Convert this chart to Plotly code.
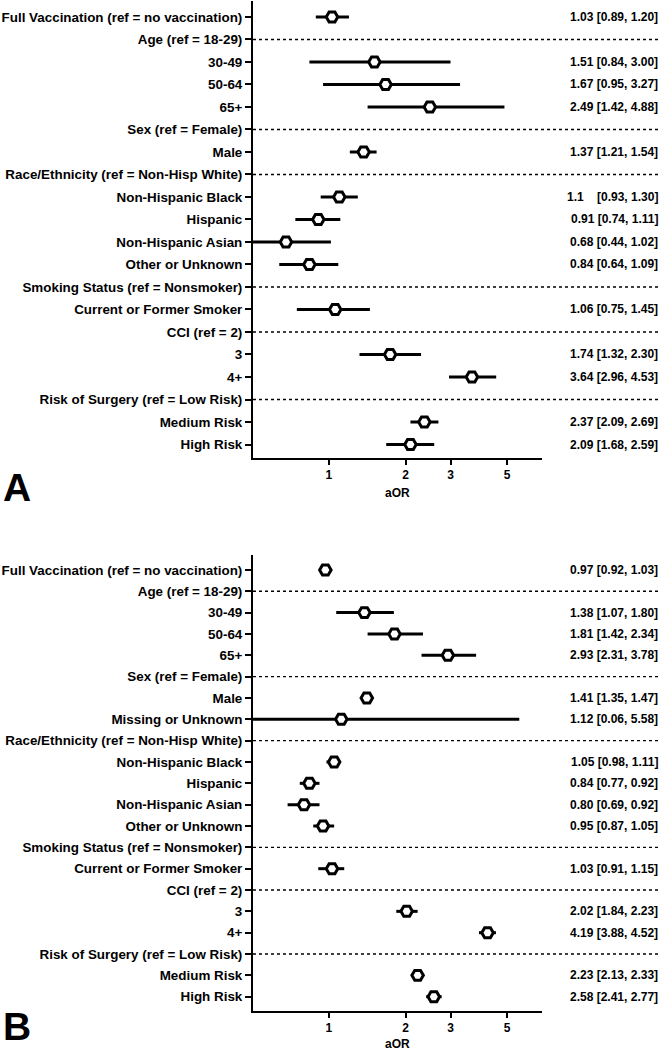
import math
import plotly.graph_objects as go

# ---------------- data ----------------
labels_a = ["Full Vaccination (ref = no vaccination)", "Age (ref = 18-29)", "30-49", "50-64", "65+",
            "Sex (ref = Female)", "Male", "Race/Ethnicity (ref = Non-Hisp White)", "Non-Hispanic Black",
            "Hispanic", "Non-Hispanic Asian", "Other or Unknown", "Smoking Status (ref = Nonsmoker)",
            "Current or Former Smoker", "CCI (ref = 2)", "3", "4+", "Risk of Surgery (ref = Low Risk)",
            "Medium Risk", "High Risk"]
est_a = [1.03, None, 1.51, 1.67, 2.49, None, 1.37, None, 1.10, 0.91, 0.68, 0.84, None, 1.06, None, 1.74, 3.64, None, 2.37, 2.09]
lo_a = [0.89, None, 0.84, 0.95, 1.42, None, 1.21, None, 0.93, 0.74, 0.44, 0.64, None, 0.75, None, 1.32, 2.96, None, 2.09, 1.68]
hi_a = [1.20, None, 3.00, 3.27, 4.88, None, 1.54, None, 1.30, 1.11, 1.02, 1.09, None, 1.45, None, 2.30, 4.53, None, 2.69, 2.59]
text_a = ["1.03 [0.89, 1.20]", "", "1.51 [0.84, 3.00]", "1.67 [0.95, 3.27]", "2.49 [1.42, 4.88]", "",
          "1.37 [1.21, 1.54]", "", "1.1\u00a0\u00a0\u00a0\u00a0[0.93, 1.30]", "0.91 [0.74, 1.11]",
          "0.68 [0.44, 1.02]", "0.84 [0.64, 1.09]", "", "1.06 [0.75, 1.45]", "", "1.74 [1.32, 2.30]",
          "3.64 [2.96, 4.53]", "", "2.37 [2.09, 2.69]", "2.09 [1.68, 2.59]"]

labels_b = ["Full Vaccination (ref = no vaccination)", "Age (ref = 18-29)", "30-49", "50-64", "65+",
            "Sex (ref = Female)", "Male", "Missing or Unknown", "Race/Ethnicity (ref = Non-Hisp White)",
            "Non-Hispanic Black", "Hispanic", "Non-Hispanic Asian", "Other or Unknown",
            "Smoking Status (ref = Nonsmoker)", "Current or Former Smoker", "CCI (ref = 2)", "3", "4+",
            "Risk of Surgery (ref = Low Risk)", "Medium Risk", "High Risk"]
est_b = [0.97, None, 1.38, 1.81, 2.93, None, 1.41, 1.12, None, 1.05, 0.84, 0.80, 0.95, None, 1.03, None, 2.02, 4.19, None, 2.23, 2.58]
lo_b = [0.92, None, 1.07, 1.42, 2.31, None, 1.35, 0.06, None, 0.98, 0.77, 0.69, 0.87, None, 0.91, None, 1.84, 3.88, None, 2.13, 2.41]
hi_b = [1.03, None, 1.80, 2.34, 3.78, None, 1.47, 5.58, None, 1.11, 0.92, 0.92, 1.05, None, 1.15, None, 2.23, 4.52, None, 2.33, 2.77]
text_b = ["0.97 [0.92, 1.03]", "", "1.38 [1.07, 1.80]", "1.81 [1.42, 2.34]", "2.93 [2.31, 3.78]", "",
          "1.41 [1.35, 1.47]", "1.12 [0.06, 5.58]", "", "1.05 [0.98, 1.11]", "0.84 [0.77, 0.92]",
          "0.80 [0.69, 0.92]", "0.95 [0.87, 1.05]", "", "1.03 [0.91, 1.15]", "", "2.02 [1.84, 2.23]",
          "4.19 [3.88, 4.52]", "", "2.23 [2.13, 2.33]", "2.58 [2.41, 2.77]"]

x_ticks = [1, 2, 3, 5]
x_title = "aOR"
panel_letters = ["A", "B"]

# ---------------- layout constants ----------------
W, H = 664, 1050
FONT = "Liberation Sans, Arial, sans-serif"
x_left, x_right, text_right = 253, 541.7, 659.5


def px(v):
    return v / W


def py(v):
    return 1 - v / H


fig = go.Figure()
annotations = []
shapes = []

panels = [
    dict(labels=labels_a, est=est_a, lo=lo_a, hi=hi_a, text=text_a, top=1, bottom=458,
         yrange=[19.6, -0.71], xa="x", ya="y", title_y=492.5, letter_bottom=511),
    dict(labels=labels_b, est=est_b, lo=lo_b, hi=hi_b, text=text_b, top=555, bottom=1011,
         yrange=[20.67, -0.70], xa="x2", ya="y2", title_y=1044, letter_bottom=1050),
]

for k, p in enumerate(panels):
    n = len(p["labels"])
    rows = list(range(n))
    # CI lines
    lx, ly = [], []
    for i in rows:
        if p["est"][i] is not None:
            lx += [p["lo"][i], p["hi"][i], None]
            ly += [i, i, None]
    fig.add_trace(go.Scatter(x=lx, y=ly, mode="lines", line=dict(color="black", width=3),
                             xaxis=p["xa"], yaxis=p["ya"], showlegend=False, hoverinfo="skip"))
    mx = [p["est"][i] for i in rows if p["est"][i] is not None]
    my = [i for i in rows if p["est"][i] is not None]
    fig.add_trace(go.Scatter(x=mx, y=my, mode="markers",
                             marker=dict(symbol="hexagon2", size=11.5, color="white",
                                         line=dict(color="black", width=3)),
                             xaxis=p["xa"], yaxis=p["ya"], showlegend=False))
    # header dotted lines
    for i in rows:
        if p["est"][i] is None:
            shapes.append(dict(type="line", xref="paper", yref=p["ya"], x0=px(x_left), x1=px(text_right),
                               y0=i, y1=i, line=dict(color="black", width=1.4, dash="dot"), layer="below"))
        elif p["text"][i]:
            annotations.append(dict(xref="paper", yref=p["ya"], x=px(text_right), y=i, xanchor="right",
                                    yanchor="middle", showarrow=False, text=p["text"][i],
                                    font=dict(family=FONT, size=12, color="black", weight="bold")))
    # vertical reference line at aOR = 1
    shapes.append(dict(type="line", xref=p["xa"], yref=p["ya"] + " domain", x0=math.log10(1), x1=math.log10(1),
                       y0=0, y1=1, line=dict(color="black", width=1, dash="dot"), layer="below"))
    # axis title and panel letter
    annotations.append(dict(xref="paper", yref="paper", x=px((x_left + x_right) / 2), y=py(p["title_y"]),
                            xanchor="center", yanchor="middle", showarrow=False, text=x_title,
                            font=dict(family=FONT, size=12, color="black", weight="bold")))
    annotations.append(dict(xref="paper", yref="paper", x=px(1), y=py(p["letter_bottom"]),
                            xanchor="left", yanchor="bottom", showarrow=False, text=panel_letters[k],
                            font=dict(family=FONT, size=39, color="black", weight="bold")))

    xkey = "xaxis" if p["xa"] == "x" else "xaxis2"
    ykey = "yaxis" if p["ya"] == "y" else "yaxis2"
    fig.update_layout(**{
        xkey: dict(type="log", range=[math.log10(0.505), math.log10(6.83)],
                   domain=[px(x_left), px(x_right)], anchor=p["ya"],
                   tickvals=x_ticks, ticktext=[str(t) for t in x_ticks],
                   ticks="outside", ticklen=5, tickwidth=2, tickcolor="black",
                   showline=True, linewidth=2, linecolor="black", showgrid=False, zeroline=False,
                   tickfont=dict(family=FONT, size=12, color="black", weight="bold")),
        ykey: dict(range=p["yrange"], domain=[py(p["bottom"]), py(p["top"])], anchor=p["xa"],
                   tickvals=rows, ticktext=p["labels"],
                   ticks="outside", ticklen=6, tickwidth=2, tickcolor="black",
                   showline=True, linewidth=2, linecolor="black", showgrid=False, zeroline=False,
                   tickfont=dict(family=FONT, size=13.4, color="black", weight="bold")),
    })

fig.update_layout(width=W, height=H, margin=dict(l=0, r=0, t=0, b=0),
                  paper_bgcolor="white", plot_bgcolor="white",
                  annotations=annotations, shapes=shapes,
                  font=dict(family=FONT, color="black"))

fig.write_html("out.html", config={"displayModeBar": False},
               post_script="document.body.style.margin='0';document.body.style.overflow='hidden';")
